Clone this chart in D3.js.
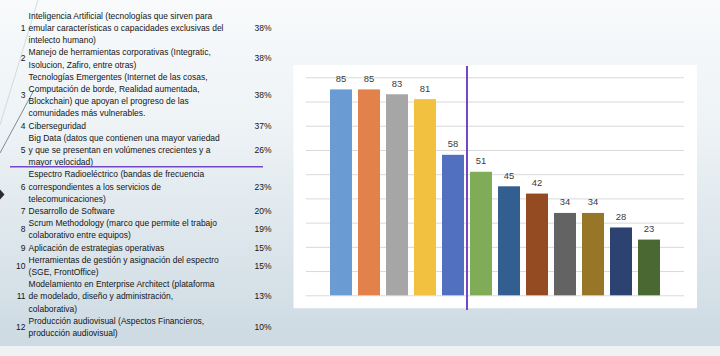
<!DOCTYPE html>
<html><head><meta charset="utf-8">
<script src="https://cdn.jsdelivr.net/npm/d3@7"></script>
<style>html,body{margin:0;padding:0;background:#fff;}svg{display:block;}</style>
</head><body>
<script>
// ---- Data ----
const rowNumbers = ["1","2","3","4","5","6","7","8","9","10","11","12"];
const rowLines = [
  ["Inteligencia Artificial (tecnologías que sirven para","emular características o capacidades exclusivas del","intelecto humano)"],
  ["Manejo de herramientas corporativas (Integratic,","Isolucion, Zafiro, entre otras)"],
  ["Tecnologías Emergentes (Internet de las cosas,","Computación de borde, Realidad aumentada,","Blockchain) que apoyan el progreso de las","comunidades más vulnerables."],
  ["Ciberseguridad"],
  ["Big Data (datos que contienen una mayor variedad","y que se presentan en volúmenes crecientes y a","mayor velocidad)"],
  ["Espectro Radioeléctrico (bandas de frecuencia","correspondientes a los servicios de","telecomunicaciones)"],
  ["Desarrollo de Software"],
  ["Scrum Methodology (marco que permite el trabajo","colaborativo entre equipos)"],
  ["Aplicación de estrategias operativas"],
  ["Herramientas de gestión y asignación del espectro","(SGE, FrontOffice)"],
  ["Modelamiento en Enterprise Architect (plataforma","de modelado, diseño y administración,","colaborativa)"],
  ["Producción audiovisual (Aspectos Financieros,","producción audiovisual)"]
];
const rowPercents = ["38%","38%","38%","37%","26%","23%","20%","19%","15%","15%","13%","10%"];

const barCategories = ["1","2","3","4","5","6","7","8","9","10","11","12"];
const barValues = [85,85,83,81,58,51,45,42,34,34,28,23];
const barColors = ["#6b9bd3","#e2824a","#a6a6a6","#f3c140","#5170c0","#80ab57","#335e90","#944b22","#636363","#977628","#2c4372","#4a6832"];
const yTickValues = [0,10,20,30,40,50,60,70,80,90];

// ---- Layout ----
const W = 720, H = 356;
const svg = d3.select("body").append("svg").attr("width", W).attr("height", H);
const defs = svg.append("defs");
const bg = defs.append("linearGradient").attr("id","bg").attr("x1",0).attr("y1",0).attr("x2",0).attr("y2",1);
bg.append("stop").attr("offset","0%").attr("stop-color","#f8fafb");
bg.append("stop").attr("offset","35%").attr("stop-color","#eef3f6");
bg.append("stop").attr("offset","100%").attr("stop-color","#cddae2");
svg.append("rect").attr("width",W).attr("height",346).attr("fill","url(#bg)");
svg.append("rect").attr("y",346).attr("width",W).attr("height",10).attr("fill","#eef2f4");

// decorations
svg.append("line").attr("x1",38).attr("y1",0).attr("x2",0).attr("y2",125)
  .attr("stroke","#c9d3da").attr("stroke-width",0.8);
svg.append("line").attr("x1",34).attr("y1",90).attr("x2",0).attr("y2",153)
  .attr("stroke","#6f7f8c").attr("stroke-width",0.9);
svg.append("path").attr("d","M0,189.5 L4.5,194.5 L0,199.5 Z").attr("fill","#2a2a2a");

// ---- Table ----
const FONT = "'Liberation Sans Narrow','Liberation Sans',Arial,sans-serif";
const table = svg.append("g");
const lineY0 = 15.3, lineStep = 12.2, textX = 28.6, numX = 25.5, pctX = 254.5;
const targetWidth = 195; // width of the widest reference line
let items = [];
let li = 0;
rowLines.forEach((lines, r) => {
  const first = li;
  lines.forEach(t => { items.push({t, x:textX, y:lineY0 + li*lineStep, anchor:"start"}); li++; });
  const mid = lineY0 + (first + (lines.length-1)/2)*lineStep;
  items.push({t:rowNumbers[r], x:numX, y:mid, anchor:"end"});
  items.push({t:rowPercents[r], x:pctX, y:mid, anchor:"start"});
});
const texts = table.selectAll("text").data(items).join("text")
  .attr("font-family", FONT).attr("font-size", 9.6).attr("fill","#141414")
  .attr("text-anchor", d => d.anchor)
  .text(d => d.t);
const refNode = texts.filter(d => d.t.startsWith("emular")).node();
const k = targetWidth / refNode.getComputedTextLength();
texts.attr("transform", d => `translate(${d.x},${d.y + 3.4}) scale(${k},1)`);

// horizontal purple separator
svg.append("line").attr("x1",10).attr("x2",263).attr("y1",166.7).attr("y2",166.7)
  .attr("stroke","#7446c8").attr("stroke-width",1.5);

// ---- Chart ----
svg.append("rect").attr("x",293.5).attr("y",65).attr("width",403.5).attr("height",243.3).attr("fill","#ffffff");

const x = d3.scaleBand().domain(barCategories).range([306,684]).paddingInner(6/28).paddingOuter(0.857);
const y = d3.scaleLinear().domain([0,90]).range([295.3,77.3]);

const grid = svg.append("g").attr("transform","translate(306,0)")
  .call(d3.axisLeft(y).tickValues(yTickValues).tickSize(-(684-306)).tickFormat(""));
grid.select(".domain").remove();
grid.selectAll(".tick line").attr("stroke","#d9d9d9").attr("stroke-width",1);

svg.append("g").selectAll("rect").data(barValues).join("rect")
  .attr("x",(d,i) => x(barCategories[i]))
  .attr("y",d => y(d))
  .attr("width",x.bandwidth())
  .attr("height",d => y(0) - y(d))
  .attr("fill",(d,i) => barColors[i]);

svg.append("g").selectAll("text").data(barValues).join("text")
  .attr("x",(d,i) => x(barCategories[i]) + x.bandwidth()/2)
  .attr("y",d => y(d) - 7.5)
  .attr("text-anchor","middle")
  .attr("font-family","'Liberation Sans',Arial,sans-serif")
  .attr("font-size",9.4).attr("fill","#3a3a3a")
  .text(d => d);

// vertical purple divider between bar 5 and 6
const divX = x(barCategories[4]) + x.bandwidth() + x.step()*x.paddingInner()/2;
svg.append("line").attr("x1",divX).attr("x2",divX).attr("y1",66).attr("y2",310)
  .attr("stroke","#7446c8").attr("stroke-width",2);
</script>
</body></html>
